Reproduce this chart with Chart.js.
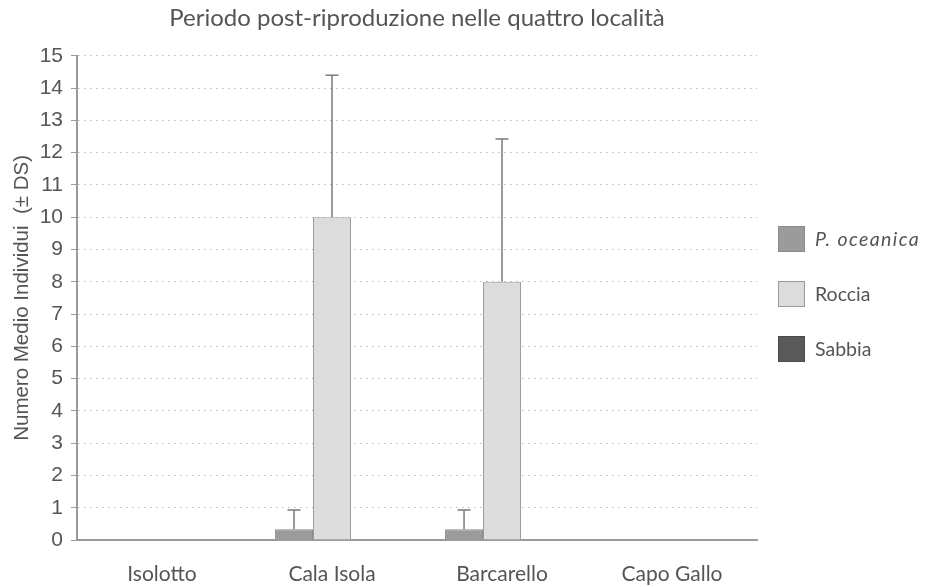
<!DOCTYPE html>
<html>
<head>
<meta charset="utf-8">
<script src="https://cdn.jsdelivr.net/npm/chart.js@4/dist/chart.umd.min.js"></script>
<style>
  html, body { margin: 0; padding: 0; background: #fff; }
  #wrap { position: relative; width: 932px; height: 587px; }
  #legend { position: absolute; left: 778px; top: 225px; font-family: Lato, sans-serif; font-size: 19.5px; color: #555; }
  #legend .item { display: flex; align-items: center; height: 27px; margin-bottom: 28px; }
  #legend .box { width: 27px; height: 26px; box-sizing: border-box; margin-right: 10px; }
</style>
</head>
<body>
<div id="wrap">
  <canvas id="chart" width="932" height="587"></canvas>
  <div id="legend"></div>
</div>
<script>
// Sites along the coast
const categories = ['Isolotto', 'Cala Isola', 'Barcarello', 'Capo Gallo'];

// Mean number of individuals per habitat
const posidoniaMean = [0, 0.33, 0.33, 0];
const rocciaMean = [0, 10, 8, 0];
const sabbiaMean = [0, 0, 0, 0];

// Standard deviations (upper whisker only)
const posidoniaSD = [0, 0.6, 0.6, 0];
const rocciaSD = [0, 4.4, 4.42, 0];
const sabbiaSD = [0, 0, 0, 0];

const yTicks = [0, 1, 2, 3, 4, 5, 6, 7, 8, 9, 10, 11, 12, 13, 14, 15];

const textGrey = '#555555';
const axisGrey = '#9a9a9a';

// Draws the ± DS whiskers above each bar using the chart's own scales
const errorBars = {
  id: 'errorBars',
  afterDatasetsDraw(chart) {
    const ctx = chart.ctx;
    const y = chart.scales.y;
    chart.data.datasets.forEach((ds, di) => {
      const meta = chart.getDatasetMeta(di);
      if (!ds.sd) return;
      meta.data.forEach((bar, i) => {
        const sd = ds.sd[i];
        if (!sd) return;
        const x = bar.x;
        const yTop = y.getPixelForValue(ds.data[i] + sd);
        const yBase = y.getPixelForValue(ds.data[i]);
        ctx.save();
        ctx.strokeStyle = '#7a7a7a';
        ctx.lineWidth = 1.5;
        ctx.beginPath();
        ctx.moveTo(x, yBase);
        ctx.lineTo(x, yTop);
        ctx.moveTo(x - 6.5, yTop);
        ctx.lineTo(x + 6.5, yTop);
        ctx.stroke();
        ctx.restore();
      });
    });
  }
};

// HTML legend so the species name can be set in italics
const htmlLegend = {
  id: 'htmlLegend',
  afterUpdate(chart) {
    const el = document.getElementById('legend');
    el.innerHTML = '';
    chart.data.datasets.forEach(ds => {
      const item = document.createElement('div');
      item.className = 'item';
      const box = document.createElement('span');
      box.className = 'box';
      box.style.background = ds.backgroundColor;
      box.style.border = '1px solid ' + ds.borderColor;
      const txt = document.createElement('span');
      txt.textContent = ds.label;
      if (ds.italic) {
        txt.style.fontStyle = 'italic';
        txt.style.letterSpacing = '1.4px';
      }
      item.appendChild(box);
      item.appendChild(txt);
      el.appendChild(item);
    });
  }
};

new Chart(document.getElementById('chart'), {
  type: 'bar',
  data: {
    labels: categories,
    datasets: [
      { label: 'P. oceanica', italic: true, data: posidoniaMean, sd: posidoniaSD,
        backgroundColor: '#9b9b9b', borderColor: '#8a8a8a', borderWidth: 1 },
      { label: 'Roccia', data: rocciaMean, sd: rocciaSD,
        backgroundColor: '#dcdcdc', borderColor: '#9a9a9a', borderWidth: 1 },
      { label: 'Sabbia', data: sabbiaMean, sd: sabbiaSD,
        backgroundColor: '#595959', borderColor: '#4a4a4a', borderWidth: 1 }
    ]
  },
  options: {
    responsive: false,
    animation: false,
    categoryPercentage: 0.67,
    barPercentage: 1,
    layout: { padding: { left: 10, right: 175, top: 0, bottom: 0 } },
    plugins: {
      legend: { display: false },
      tooltip: { enabled: false },
      title: {
        display: true,
        fullSize: false,
        text: 'Periodo post-riproduzione nelle quattro località',
        color: textGrey,
        font: { family: 'Lato', size: 24, weight: 'normal' },
        padding: { top: 4, bottom: 23 }
      }
    },
    scales: {
      x: {
        grid: { display: false, drawTicks: false },
        border: { color: axisGrey, width: 2 },
        ticks: { color: textGrey, font: { family: 'Lato', size: 21 }, padding: 22 },
        afterFit(scale) { scale.height = 47; }
      },
      y: {
        min: 0,
        max: 15,
        afterBuildTicks(scale) { scale.ticks = yTicks.map(v => ({ value: v })); },
        afterFit(scale) { scale.width = 67; },
        border: { color: axisGrey, width: 2, dash: [1.5, 4.5] },
        grid: {
          color: '#b8b8b8',
          lineWidth: 1,
          drawTicks: true,
          tickLength: 6,
          tickColor: axisGrey,
          tickWidth: 1,
          tickBorderDash: []
        },
        ticks: { color: textGrey, font: { family: 'Liberation Sans', size: 21 }, padding: 8 },
        title: {
          display: true,
          text: 'Numero Medio Individui  (± DS)',
          color: textGrey,
          font: { family: 'Liberation Sans', size: 20.5 },
          padding: { top: 0, bottom: 6 }
        }
      }
    }
  },
  plugins: [errorBars, htmlLegend]
});
</script>
</body>
</html>
